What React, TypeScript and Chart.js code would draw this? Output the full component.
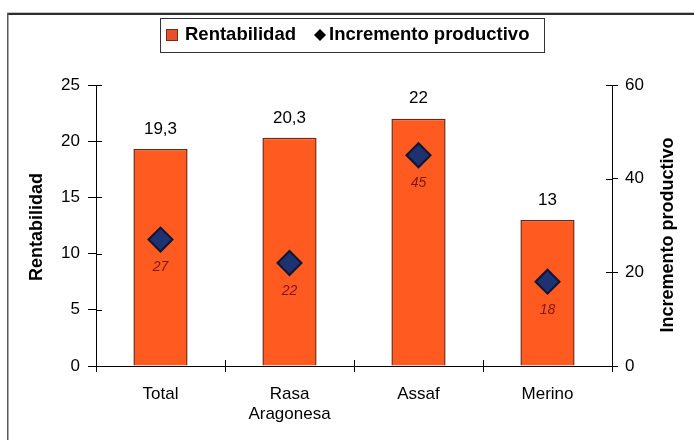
import React, { useEffect, useRef } from 'react';
import { Chart, registerables } from 'chart.js';

Chart.register(...registerables);

const categories: (string | string[])[] = ['Total', ['Rasa', 'Aragonesa'], 'Assaf', 'Merino'];
const rentabilidad: number[] = [19.3, 20.3, 22, 13];
const incremento: number[] = [27, 22, 45, 18];
const seriesNames: string[] = ['Rentabilidad', 'Incremento productivo'];
const leftAxisTitle = 'Rentabilidad';
const rightAxisTitle = 'Incremento productivo';

const FONT = '"Liberation Sans", Arial, Helvetica, sans-serif';
const BAR_COLOR = '#FF5A1F';
const BAR_BORDER = '#6E2812';
const PT_COLOR = '#1E3170';
const PT_BORDER = '#0E1634';

const fmt = (v: number) => String(v).replace('.', ',');

const decorPlugin = {
  id: 'decor',
  afterDraw(chart: any) {
    const ctx: CanvasRenderingContext2D = chart.ctx;
    const area = chart.chartArea;
    ctx.save();

    // frame lines
    ctx.fillStyle = '#c4c4c4';
    ctx.fillRect(7, 12, 687, 1);
    ctx.fillStyle = '#2e2e2e';
    ctx.fillRect(7, 13, 687, 2);
    ctx.fillStyle = '#5a5a5a';
    ctx.fillRect(7, 13, 1.5, 427);

    // inner halves of tick marks (crossing ticks)
    ctx.strokeStyle = '#000';
    ctx.lineWidth = 1;
    const ys = chart.scales.y;
    ys.ticks.forEach((t: any) => {
      const py = Math.round(ys.getPixelForValue(t.value)) + 0.5;
      ctx.beginPath();
      ctx.moveTo(area.left, py);
      ctx.lineTo(area.left + 6, py);
      ctx.stroke();
    });
    const y1 = chart.scales.y1;
    y1.ticks.forEach((t: any) => {
      const py = Math.round(y1.getPixelForValue(t.value)) + 0.5;
      ctx.beginPath();
      ctx.moveTo(area.right - 6, py);
      ctx.lineTo(area.right, py);
      ctx.stroke();
    });
    const xs = chart.scales.x;
    for (let i = 1; i < categories.length; i++) {
      const px = Math.round((xs.getPixelForTick(i - 1) + xs.getPixelForTick(i)) / 2) + 0.5;
      ctx.beginPath();
      ctx.moveTo(px, area.bottom - 6);
      ctx.lineTo(px, area.bottom);
      ctx.stroke();
    }

    // data labels
    const barMeta = chart.getDatasetMeta(0);
    ctx.fillStyle = '#000';
    ctx.font = `17px ${FONT}`;
    ctx.textAlign = 'center';
    ctx.textBaseline = 'middle';
    barMeta.data.forEach((el: any, i: number) => {
      ctx.fillText(fmt(rentabilidad[i]), el.x, el.y - 20);
    });
    const ptMeta = chart.getDatasetMeta(1);
    ctx.fillStyle = '#7A1810';
    ctx.font = `italic 14px ${FONT}`;
    ptMeta.data.forEach((el: any, i: number) => {
      ctx.fillText(fmt(incremento[i]), el.x, el.y + 28);
    });

    // axis titles
    ctx.fillStyle = '#000';
    ctx.font = `bold 18px ${FONT}`;
    ctx.save();
    ctx.translate(37, 227);
    ctx.rotate(-Math.PI / 2);
    ctx.fillText(leftAxisTitle, 0, 0);
    ctx.restore();
    ctx.save();
    ctx.translate(668, 235);
    ctx.rotate(-Math.PI / 2);
    ctx.fillText(rightAxisTitle, 0, 0);
    ctx.restore();

    // legend
    ctx.fillStyle = '#fff';
    ctx.fillRect(160, 18, 384, 34);
    ctx.strokeStyle = '#333';
    ctx.lineWidth = 1;
    ctx.strokeRect(160.5, 18.5, 384, 34);
    ctx.fillStyle = '#E4512A';
    ctx.fillRect(166, 29, 12, 12);
    ctx.strokeStyle = '#7a2a12';
    ctx.strokeRect(166.5, 29.5, 11, 11);
    ctx.fillStyle = '#000';
    ctx.font = `bold 18.5px ${FONT}`;
    ctx.textAlign = 'left';
    ctx.fillText(seriesNames[0], 185, 35);
    ctx.beginPath();
    ctx.moveTo(320, 29);
    ctx.lineTo(326, 35);
    ctx.lineTo(320, 41);
    ctx.lineTo(314, 35);
    ctx.closePath();
    ctx.fill();
    ctx.fillText(seriesNames[1], 329, 35);

    ctx.restore();
  },
};

export default function App() {
  const ref = useRef<HTMLCanvasElement | null>(null);

  useEffect(() => {
    if (!ref.current) return;
    const chart = new Chart(ref.current, {
      type: 'bar',
      data: {
        labels: categories as any,
        datasets: [
          {
            type: 'bar',
            label: seriesNames[0],
            data: rentabilidad,
            backgroundColor: BAR_COLOR,
            borderColor: BAR_BORDER,
            borderWidth: 1.5,
            yAxisID: 'y',
            barPercentage: 0.42,
            categoryPercentage: 1,
            order: 2,
          } as any,
          {
            type: 'line',
            label: seriesNames[1],
            data: incremento,
            showLine: false,
            pointStyle: 'rectRot',
            pointRadius: 12,
            pointBackgroundColor: PT_COLOR,
            pointBorderColor: PT_BORDER,
            pointBorderWidth: 2,
            yAxisID: 'y1',
            order: 1,
          } as any,
        ],
      },
      options: {
        animation: false,
        responsive: false,
        layout: { padding: { top: 85, left: 0, right: 0, bottom: 0 } },
        plugins: { legend: { display: false }, tooltip: { enabled: false } },
        scales: {
          x: {
            offset: true,
            grid: { drawOnChartArea: false, color: '#000', tickLength: 6, offset: true },
            border: { color: '#000', width: 1 },
            ticks: { color: '#000', font: { family: FONT, size: 17, lineHeight: 1.2 }, padding: 12, maxRotation: 0 },
            afterFit: (s: any) => { s.height = 74; },
          },
          y: {
            position: 'left',
            min: 0,
            max: 25,
            grid: { drawOnChartArea: false, color: '#000', tickLength: 8 },
            border: { color: '#000', width: 1 },
            ticks: { stepSize: 5, color: '#000', font: { family: FONT, size: 17 }, padding: 8 },
            afterFit: (s: any) => { s.width = 96; },
          },
          y1: {
            position: 'right',
            min: 0,
            max: 60,
            grid: { drawOnChartArea: false, color: '#000', tickLength: 6 },
            border: { color: '#000', width: 1 },
            ticks: { stepSize: 20, color: '#000', font: { family: FONT, size: 17 }, padding: 7 },
            afterFit: (s: any) => { s.width = 82; },
          },
        },
      },
      plugins: [decorPlugin],
    });
    return () => chart.destroy();
  }, []);

  return (
    <div style={{ position: 'absolute', left: 0, top: 0, width: 694, height: 440, background: '#fff' }}>
      <canvas ref={ref} width={694} height={440} style={{ width: 694, height: 440, display: 'block' }} />
    </div>
  );
}
